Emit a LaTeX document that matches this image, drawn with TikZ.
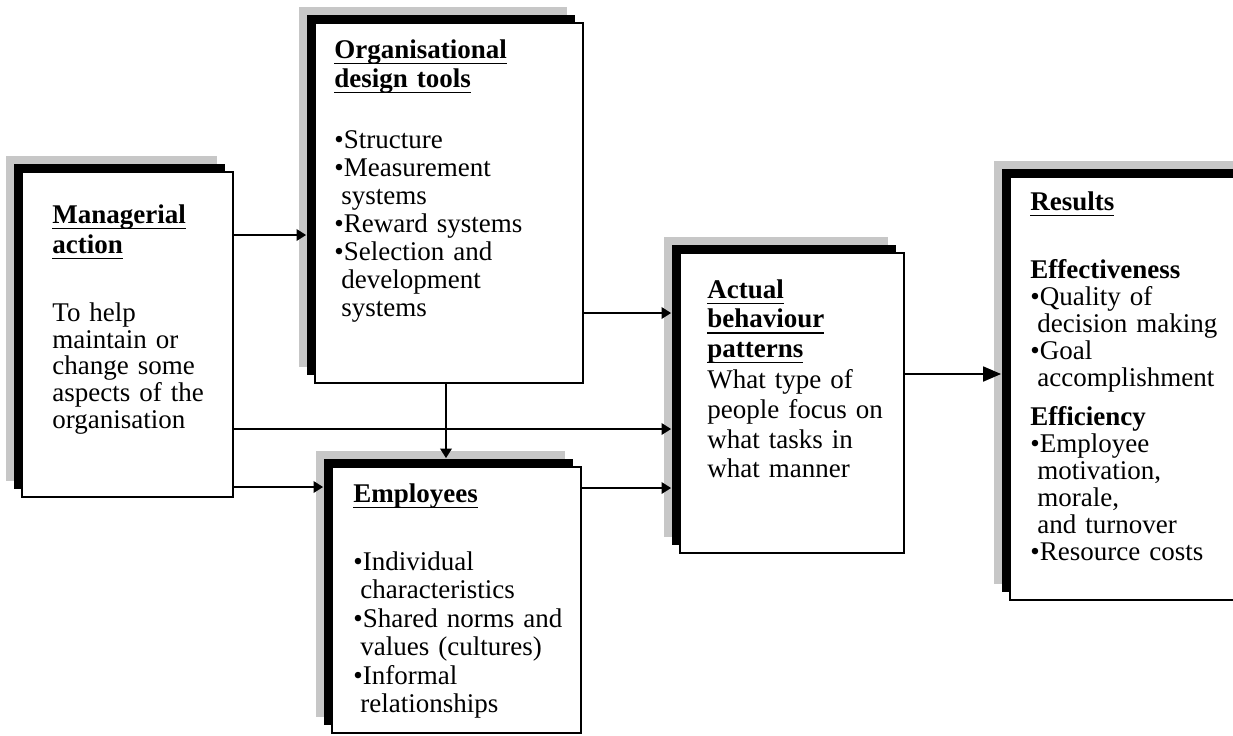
\documentclass[tikz,border=0pt]{standalone}
\usepackage{fontspec}
\setmainfont{Liberation Serif}
\usetikzlibrary{arrows.meta,shadows,fit}

\tikzset{
  box/.style={draw, line width=0.9pt, fill=white, inner sep=0pt,
    general shadow={fill=black!22, shadow xshift=-8pt, shadow yshift=8pt},
    general shadow={fill=black, shadow xshift=-4pt, shadow yshift=4pt}},
  txt/.style={anchor=base west, inner sep=0pt, text width=115pt, align=left,
    font=\fontsize{13.5pt}{14pt}\selectfont},
  arr/.style={line width=0.9pt, -{Triangle[length=4.8pt,width=5.8pt]}, shorten >=4pt}
}
\newcommand{\hd}[1]{\leavevmode\setbox0\hbox{\textbf{#1}}\rlap{\rule[-3pt]{\wd0}{0.7pt}}\box0}
\newcommand{\bl}{\textbullet}
\newcommand{\ct}{\hspace*{3.5pt}}

\begin{document}
\begin{tikzpicture}[x=0.5pt,y=-0.5pt]
    \useasboundingbox (0,0) rectangle (1233,735);
    \clip (0,0) rectangle (1233,735);

    % boxes
    \node[box, fit={(22,172) (233,497)}] (man) {};
    \node[box, fit={(315,23) (583,383)}] (org) {};
    \node[box, fit={(332,467) (581,733)}] (emp) {};
    \node[box, fit={(680,253) (904,553)}] (act) {};
    \node[box, fit={(1010,177) (1250,600)}] (res) {};

    % texts
    \node[txt, font=\fontsize{13.5pt}{13.3pt}\selectfont] (mantxt) at (52,223)
      {\hd{Managerial}\\[1.7pt]
      \hd{action}\\[21pt]
      To help\\ maintain or\\ change some\\ aspects of the\\ organisation};
    \node[txt] (orgtxt) at (334,58) {\hd{Organisational}\\[0.5pt]
      \hd{design tools}\\[16.5pt]
      \bl Structure\\ \bl Measurement\\ \ct systems\\ \bl Reward systems\\
      \bl Selection and\\ \ct development\\ \ct systems};
    \node[txt, font=\fontsize{13.5pt}{14.2pt}\selectfont] (emptxt) at (353,502)
      {\hd{Employees}\\[20pt]
      \bl Individual\\ \ct characteristics\\ \bl Shared norms and\\
      \ct values (cultures)\\ \bl Informal\\ \ct relationships};
    \node[txt, font=\fontsize{13.5pt}{14.8pt}\selectfont] (acttxt) at (707,298)
      {\hd{Actual}\\ \hd{behaviour}\\ \hd{patterns}\\[1pt]
      What type of\\ people focus on\\ what tasks in\\ what manner};
    \node[txt, font=\fontsize{13.5pt}{13.5pt}\selectfont] (restxt) at (1030,210)
      {\hd{Results}\\[20.5pt]
      \textbf{Effectiveness}\\ \bl Quality of\\ \ct decision making\\
      \bl Goal\\ \ct accomplishment\\[6pt]
      \textbf{Efficiency}\\ \bl Employee\\ \ct motivation,\\ \ct morale,\\
      \ct and turnover\\ \bl Resource costs};

    % connectors
    \draw[arr] (man.east |- 0,235) -- (org.west |- 0,235);
    \draw[arr] (man.east |- 0,429) -- (act.west |- 0,429);
    \draw[arr] (man.east |- 0,487) -- (emp.west |- 0,487);
    \draw[arr] (org.east |- 0,313) -- (act.west |- 0,313);
    \draw[arr] (org.south -| 446,0) -- (emp.north -| 446,0);
    \draw[arr] (emp.east |- 0,488) -- (act.west |- 0,488);
    \draw[arr, -{Triangle[length=9pt,width=7.5pt]}] (act.east |- 0,374) -- (res.west |- 0,374);
\end{tikzpicture}
\end{document}
